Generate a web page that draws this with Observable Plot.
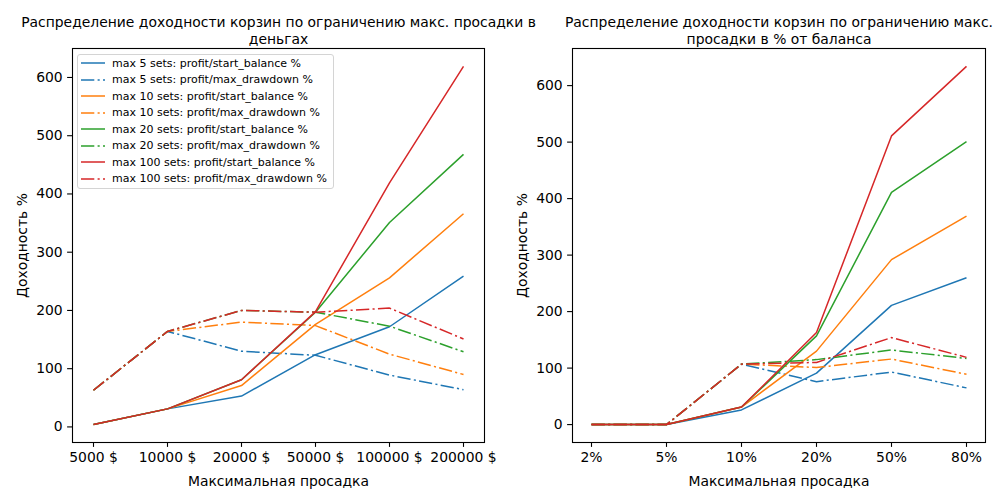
<!DOCTYPE html>
<html>
<head>
<meta charset="utf-8">
<script src="https://cdn.jsdelivr.net/npm/d3@7"></script>
<script src="https://cdn.jsdelivr.net/npm/@observablehq/plot@0.6"></script>
<style>
  body { margin: 0; background: #fff; }
  #wrap { position: relative; width: 1000px; height: 500px; display: flex; font-family: "DejaVu Sans", sans-serif; }
  #wrap svg { overflow: visible; }
  #legend { position: absolute; left: 77px; top: 54px; width: 257px; height: 135px; box-sizing: border-box;
            border: 1px solid #d4d4d4; border-radius: 3px; background: rgba(255,255,255,0.8); z-index: 2; }
  .row { position: absolute; left: 3px; height: 16px; display: flex; align-items: center; font-size: 11px; color: #000; white-space: nowrap; }
  .row svg { width: 24px; height: 16px; margin-right: 7px; }
</style>
</head>
<body>
<div id="wrap"><div id="legend"></div></div>
<script>
// ---- data ----
const leftCategories = ["5000 $", "10000 $", "20000 $", "50000 $", "100000 $", "200000 $"];
const rightCategories = ["2%", "5%", "10%", "20%", "50%", "80%"];
const setNames = ["max 5 sets", "max 10 sets", "max 20 sets", "max 100 sets"];
const metricNames = ["profit/start_balance %", "profit/max_drawdown %"];
const yTicks = [0, 100, 200, 300, 400, 500, 600];

// left chart (drawdown limit in money)
const leftStart5   = [4, 31, 53, 124, 172, 259];
const leftDD5      = [63, 164, 130, 123, 89, 64];
const leftStart10  = [4, 31, 71, 176, 256, 366];
const leftDD10     = [63, 164, 180, 174, 125, 90];
const leftStart20  = [4, 31, 81, 197, 351, 468];
const leftDD20     = [63, 164, 200, 197, 173, 129];
const leftStart100 = [4, 31, 81, 198, 419, 619];
const leftDD100    = [63, 164, 200, 197, 204, 151];

// right chart (drawdown limit in % of balance)
const rightStart5   = [0, 0, 26, 91, 211, 260];
const rightDD5      = [0, 0, 107, 76, 93, 65];
const rightStart10  = [0, 0, 31, 130, 292, 369];
const rightDD10     = [0, 0, 107, 101, 116, 89];
const rightStart20  = [0, 0, 31, 157, 411, 501];
const rightDD20     = [0, 0, 107, 115, 132, 117];
const rightStart100 = [0, 0, 31, 163, 511, 634];
const rightDD100    = [0, 0, 107, 110, 154, 119];

const leftTitle = "Распределение доходности корзин по ограничению макс. просадки в\nденьгах";
const rightTitle = "Распределение доходности корзин по ограничению макс.\nпросадки в % от баланса";
const yLabel = "Доходность %";
const xLabel = "Максимальная просадка";

// ---- styles ----
const colors = ["#1f77b4", "#ff7f0e", "#2ca02c", "#d62728"];
const dashDot = "13.3,3.3,2.1,3.3";
const lineWidth = 1.5;

function buildSeries(cats, arrays) {
  return arrays.map((vals, k) => ({
    set: setNames[Math.floor(k / 2)],
    metric: metricNames[k % 2],
    color: colors[Math.floor(k / 2)],
    dashed: k % 2 === 1,
    rows: vals.map((v, i) => ({cat: cats[i], value: v}))
  }));
}

function chart(cats, arrays, title, marginRight) {
  const series = buildSeries(cats, arrays);
  const all = arrays.flat();
  const [mn, mx] = d3.extent(all);
  const pad = (mx - mn) * 0.05;
  return Plot.plot({
    width: 500,
    height: 500,
    marginLeft: 72,
    marginRight: marginRight,
    marginTop: 48,
    marginBottom: 58,
    style: {fontFamily: "DejaVu Sans, sans-serif", fontSize: "13.9px", color: "#000", background: "transparent", overflow: "visible"},
    x: {type: "point", domain: cats, padding: 0.25},
    y: {domain: [mn - pad, mx + pad]},
    marks: [
      Plot.axisY({ticks: yTicks, tickSize: 4.9, tickPadding: 4.9, label: yLabel, labelAnchor: "center",
                  labelArrow: "none", labelOffset: 55, strokeWidth: 1.1}),
      Plot.axisX({tickSize: 4.9, tickPadding: 4.9, label: xLabel, labelAnchor: "center",
                  labelArrow: "none", labelOffset: 43.5, strokeWidth: 1.1}),
      ...series.map(s => Plot.line(s.rows, {
        x: "cat", y: "value", stroke: s.color, strokeWidth: lineWidth,
        strokeDasharray: s.dashed ? dashDot : null, strokeLinejoin: "round", strokeLinecap: "butt"
      })),
      Plot.frame({stroke: "#000", strokeWidth: 1.1}),
      Plot.text([title], {text: d => d, frameAnchor: "top", lineAnchor: "bottom", dy: -5,
                          fontSize: 13.9, lineHeight: 1.2, fill: "#000"})
    ]
  });
}

const wrap = document.getElementById("wrap");
wrap.appendChild(chart(leftCategories,
  [leftStart5, leftDD5, leftStart10, leftDD10, leftStart20, leftDD20, leftStart100, leftDD100], leftTitle, 16));
wrap.appendChild(chart(rightCategories,
  [rightStart5, rightDD5, rightStart10, rightDD10, rightStart20, rightDD20, rightStart100, rightDD100], rightTitle, 15));

// legend (left chart)
const legend = document.getElementById("legend");
let idx = 0;
setNames.forEach((name, si) => {
  metricNames.forEach((metric, mi) => {
    const row = document.createElement("div");
    row.className = "row";
    row.style.top = (0.3 + idx * 16.5) + "px";
    row.innerHTML = `<svg viewBox="0 0 24 16"><line x1="0" x2="24" y1="8" y2="8" stroke="${colors[si]}" stroke-width="${lineWidth}" ${mi === 1 ? `stroke-dasharray="${dashDot}"` : ""}/></svg><span>${name}: ${metric}</span>`;
    legend.appendChild(row);
    idx++;
  });
});
</script>
</body>
</html>
